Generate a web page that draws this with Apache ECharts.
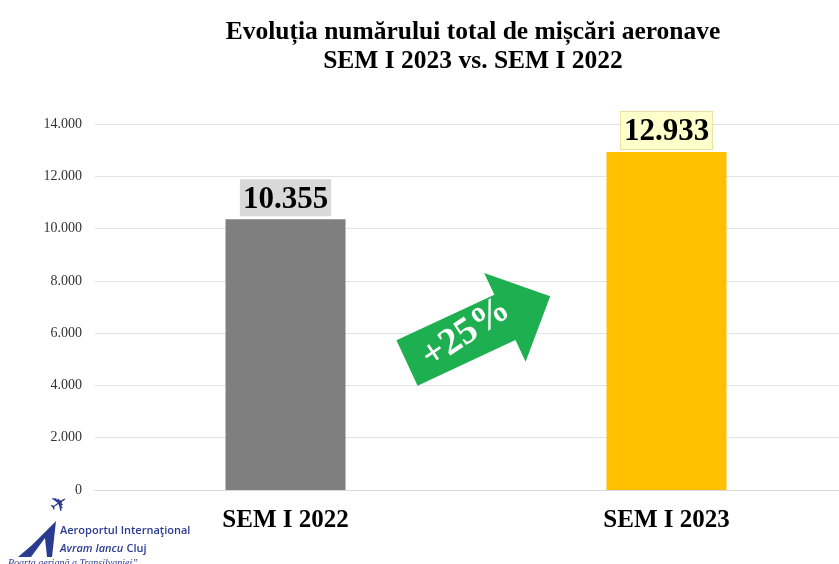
<!DOCTYPE html>
<html>
<head>
<meta charset="utf-8">
<script src="https://cdn.jsdelivr.net/npm/echarts@6/dist/echarts.min.js"></script>
<style>
  html, body {margin: 0; padding: 0; background: #fff; overflow: hidden;}
  /* plot runs a bit past the right edge, like the original slide */
  #chart {width: 857px; height: 564px;}
</style>
</head>
<body>
<div id="chart"></div>
<script>
  let categories = ['SEM I 2022', 'SEM I 2023'];
  let values = [10355, 12933];
  let barColors = ['#7f7f7f', '#ffc000'];
  let labelBg = ['#d9d9d9', '#ffffcc'];
  let yTicks = [0, 2000, 4000, 6000, 8000, 10000, 12000, 14000];
  let growthText = '+25%';

  function fmt(v) {
    return String(v).replace(/\B(?=(\d{3})+(?!\d))/g, '.');
  }

  let chart = echarts.init(document.getElementById('chart'));
  let option = {
    animation: false,
    title: {
      text: 'Evoluția numărului total de mișcări aeronave\nSEM I 2023 vs. SEM I 2022',
      left: 468, top: 13, textAlign: 'center',
      textStyle: {fontFamily: 'Liberation Serif', fontWeight: 'bold', fontSize: 25.5, color: '#000', lineHeight: 29}
    },
    grid: {left: 95, right: 0, top: 124, bottom: 74},
    xAxis: {
      type: 'category',
      data: categories,
      axisLine: {show: true, lineStyle: {color: '#d9d9d9'}},
      axisTick: {show: false},
      axisLabel: {margin: 18, fontFamily: 'Liberation Serif', fontWeight: 'bold', fontSize: 25, color: '#000'}
    },
    yAxis: {
      type: 'value',
      min: yTicks[0], max: yTicks[yTicks.length - 1], interval: 2000,
      axisLine: {show: false},
      axisTick: {show: false},
      splitLine: {lineStyle: {color: '#e3e3e3'}},
      axisLabel: {margin: 13, fontFamily: 'Liberation Serif', fontSize: 14, color: '#333', formatter: fmt}
    },
    series: [{
      type: 'bar',
      barWidth: 120,
      data: values.map(function(v, i) {
        return {
          value: v,
          itemStyle: {color: barColors[i]},
          label: {backgroundColor: labelBg[i], borderColor: i == 1 ? '#e8e0a0' : 'transparent', borderWidth: 1}
        };
      }),
      label: {
        show: true, position: 'top', distance: 3,
        fontFamily: 'Liberation Serif', fontWeight: 'bold', fontSize: 31, color: '#000',
        padding: [5, 3, 1, 3],
        formatter: function(p) { return fmt(p.value); }
      }
    }],
    graphic: [
      {
        type: 'group', x: 407, y: 363, rotation: 25 * Math.PI / 180,
        children: [
          {type: 'polygon', z: 100, shape: {points: [[0, -25], [108, -25], [108, -49], [158, 0], [108, 49], [108, 25], [0, 25]]},
           style: {fill: '#1eb050'}},
          {type: 'text', z: 101, x: 66, y: -2, rotation: 9 * Math.PI / 180,
           style: {text: growthText, fill: '#fff', font: 'bold 38px "Liberation Serif"', align: 'center', verticalAlign: 'middle'}}
        ]
      },
      // logo
      {type: 'polygon', z: 100, shape: {points: [[18, 557], [32, 545], [44, 533], [56, 521], [52, 557]]}, style: {fill: '#2a3b90'}},
      {type: 'polygon', z: 101, shape: {points: [[31, 557], [45, 538], [47, 557]]}, style: {fill: '#fff'}},
      {type: 'text', x: 60, y: 505, rotation: 0.6, z: 100,
       style: {text: '✈', fill: '#2a3b90', font: '22px "DejaVu Sans"', align: 'center', verticalAlign: 'middle'}},
      {type: 'text', x: 60, y: 531, z: 100,
       style: {text: 'Aeroportul Internaţional', fill: '#2a3b90', font: '600 11px "Open Sans"', verticalAlign: 'middle'}},
      {type: 'text', x: 60, y: 549, z: 100,
       style: {rich: {i: {fill: '#2a3b90', font: 'italic 600 11px "Open Sans"'}, n: {fill: '#2a3b90', font: '600 11px "Open Sans"'}},
               text: '{i|Avram Iancu} {n|Cluj}', verticalAlign: 'middle'}},
      {type: 'text', x: 8, y: 563, z: 100,
       style: {text: 'Poarta aeriană a Transilvaniei”', fill: '#2a3b90', font: 'italic 10px "Liberation Serif"', verticalAlign: 'middle'}}
    ]
  };
  chart.setOption(option);
</script>
</body>
</html>
